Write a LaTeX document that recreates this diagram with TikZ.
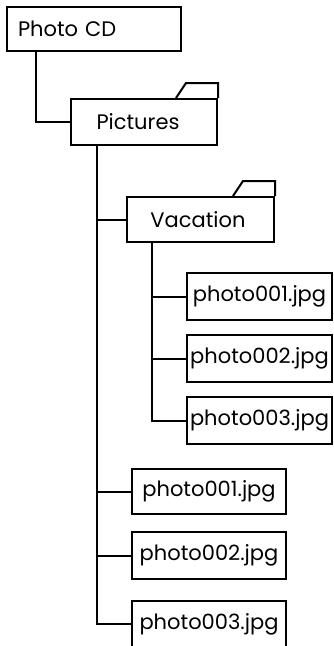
\documentclass[tikz,border=0pt]{standalone}
\usepackage{fontspec}
\setmainfont{Poppins}
\begin{document}
\begin{tikzpicture}[x=1pt,y=-1pt,
  box/.style={draw, line width=2pt, rectangle, inner sep=0pt, font=\fontsize{21}{24}\selectfont},
  tab/.style={draw, line width=2pt, line join=miter},
  conn/.style={draw, line width=2pt}]
\useasboundingbox (0,0) rectangle (334,646);
% Photo CD
\node[box, minimum height=44pt, text width=152pt, inner xsep=11pt, align=left] (cd) at (94,29) {Photo CD};
% Pictures folder
\node[box, minimum width=146pt, minimum height=46pt] (pic) at (144,122) {\hspace*{-12pt}Pictures};
\draw[tab] ([xshift=-42pt]pic.north east) -- ++(10,-15) -| (pic.north east);
% Vacation folder
\node[box, minimum width=147pt, minimum height=45pt] (vac) at (200.5,219.5) {\hspace*{-5pt}Vacation};
\draw[tab] ([xshift=-42pt]vac.north east) -- ++(10,-15) -| (vac.north east);
% files in Vacation
\node[box, minimum width=145pt, minimum height=47pt] (v1) at (259.5,296.5) {photo001.jpg};
\node[box, minimum width=145pt, minimum height=47pt] (v2) at (259.5,358.5) {photo002.jpg};
\node[box, minimum width=145pt, minimum height=47pt] (v3) at (259.5,420.5) {photo003.jpg};
% files in Pictures
\node[box, minimum width=154pt, minimum height=45pt] (p1) at (209,491.5) {photo001.jpg};
\node[box, minimum width=154pt, minimum height=47pt] (p2) at (209,555.5) {photo002.jpg};
\node[box, minimum width=154pt, minimum height=46pt] (p3) at (209,624) {photo003.jpg};
% connectors
\draw[conn] ([xshift=30pt]cd.south west) |- (pic.west);
\draw[conn] ([xshift=27pt]pic.south west) |- (p3.west);
\draw[conn] ([xshift=27pt]pic.south west) |- (vac.west);
\draw[conn] ([xshift=27pt]pic.south west) |- (p1.west);
\draw[conn] ([xshift=27pt]pic.south west) |- (p2.west);
\draw[conn] ([xshift=26pt]vac.south west) |- (v3.west);
\draw[conn] ([xshift=26pt]vac.south west) |- (v1.west);
\draw[conn] ([xshift=26pt]vac.south west) |- (v2.west);
\end{tikzpicture}
\end{document}
